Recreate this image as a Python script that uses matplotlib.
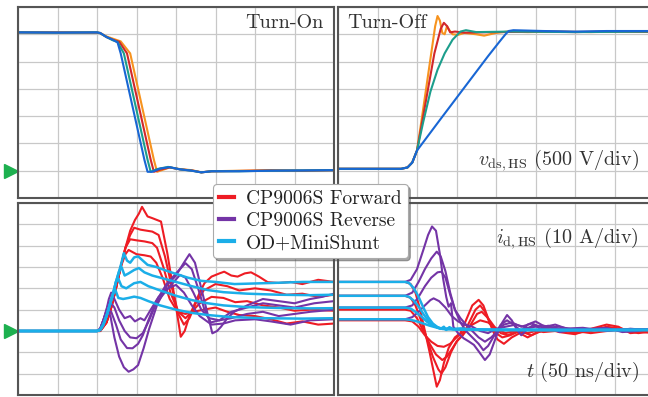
import matplotlib
matplotlib.use("Agg")
import matplotlib.pyplot as plt
from matplotlib.lines import Line2D
from matplotlib.transforms import blended_transform_factory

plt.rcParams['font.family'] = ['cmr10', 'DejaVu Serif']
plt.rcParams['mathtext.fontset'] = 'cm'
plt.rcParams['axes.formatter.use_mathtext'] = True

# time in ns, amplitude in divisions (500 V/div resp. 10 A/div)
# --- v_ds turn-on
von_orange = [(0, 5.07), (50, 5.06), (100, 5.07), (104, 5.05), (112, 4.92), (122, 4.82), (130, 4.74), (142, 4.3),
              (152, 3.0), (162, 1.7), (172, 0.4), (176, -0.04), (182, 0.02), (192, 0.12), (205, 0.06),
              (220, 0.02), (232, -0.06), (245, -0.02), (280, 0.0), (320, 0.02), (360, 0.0), (400, 0.02)]
von_red = [(0, 5.07), (50, 5.07), (100, 5.06), (104, 5.04), (112, 4.9), (120, 4.8), (128, 4.73), (138, 4.3),
           (148, 3.0), (158, 1.7), (168, 0.4), (172, -0.04), (180, 0.04), (192, 0.12), (205, 0.05),
           (220, 0.01), (232, -0.06), (245, -0.02), (280, -0.01), (320, 0.01), (360, 0.0), (400, 0.02)]
von_teal = [(0, 5.07), (50, 5.06), (100, 5.07), (104, 5.04), (112, 4.9), (120, 4.78), (126, 4.72), (134, 4.3),
            (144, 3.0), (154, 1.7), (164, 0.4), (168, -0.04), (176, 0.06), (190, 0.14), (205, 0.05),
            (220, 0.0), (232, -0.06), (245, -0.02), (280, -0.02), (320, 0.0), (360, 0.01), (400, 0.02)]
von_blue = [(0, 5.07), (50, 5.06), (100, 5.07), (104, 5.05), (112, 4.9), (120, 4.8), (126, 4.7), (130, 4.3),
            (140, 3.0), (150, 1.7), (160, 0.4), (164, -0.04), (170, -0.04), (180, 0.08), (192, 0.13),
            (205, 0.05), (220, 0.0), (232, -0.06), (245, -0.02), (280, -0.02), (320, 0.0), (360, 0.01), (400, 0.02)]

# --- v_ds turn-off
voff_orange = [(0, 0.07), (40, 0.07), (80, 0.07), (88, 0.12), (94, 0.3), (100, 0.74), (106, 1.9), (112, 3.1),
               (118, 4.3), (123, 5.3), (126, 5.67), (129, 5.5), (132, 5.05), (135, 5.0), (138, 5.3), (141, 5.15),
               (145, 5.0), (152, 4.98), (160, 5.05), (175, 5.0), (185, 4.95), (200, 5.05), (215, 5.1),
               (240, 5.08), (280, 5.1), (320, 5.08), (360, 5.1), (400, 5.08)]
voff_red = [(0, 0.07), (40, 0.07), (80, 0.07), (88, 0.12), (94, 0.3), (100, 0.74), (106, 1.7), (114, 3.0),
            (122, 4.3), (130, 5.2), (134, 5.42), (138, 5.3), (142, 5.07), (148, 5.1), (160, 5.06), (200, 5.08),
            (260, 5.1), (300, 5.08), (340, 5.1), (400, 5.09)]
voff_teal = [(0, 0.07), (40, 0.07), (80, 0.07), (88, 0.12), (94, 0.3), (100, 0.74), (108, 1.8), (117, 2.9),
             (126, 3.7), (135, 4.3), (145, 4.8), (155, 5.1), (162, 5.15), (175, 5.08), (220, 5.1),
             (300, 5.08), (400, 5.1)]
voff_blue = [(0, 0.07), (40, 0.07), (80, 0.07), (88, 0.12), (94, 0.3), (100, 0.74), (130, 1.9), (160, 3.05),
             (190, 4.2), (205, 4.75), (212, 5.0), (216, 5.12), (222, 5.15), (260, 5.12), (300, 5.1),
             (340, 5.12), (400, 5.12)]

# --- i_d turn-on
ion_fwd = [
    [(0, 0), (104, 0), (112, 0.4), (118, 1.1), (124, 2.0), (130, 3.0), (136, 3.9), (142, 4.7), (148, 5.2),
     (153, 5.5), (157, 5.82), (164, 5.37), (170, 5.29), (181, 5.13), (189, 3.65), (198, 1.61), (206, -0.27),
     (211, 0.0), (217, 0.7), (223, 1.22), (230, 1.8), (236, 2.24), (245, 2.55), (255, 2.7), (261, 2.78),
     (270, 2.6), (278, 2.55), (287, 2.7), (295, 2.75), (305, 2.55), (316, 2.29), (330, 2.25), (345, 2.3),
     (360, 2.2), (380, 2.4), (400, 2.3)],
    [(0, 0), (104, 0), (112, 0.4), (118, 1.1), (124, 2.0), (130, 3.0), (136, 3.9), (142, 4.5), (147, 4.84),
     (155, 4.75), (170, 4.66), (178, 4.5), (186, 3.5), (195, 2.0), (203, 0.8), (210, 0.3), (217, 0.6),
     (225, 1.3), (235, 1.9), (250, 2.2), (265, 2.1), (280, 1.9), (300, 2.0), (320, 1.9), (340, 1.7),
     (360, 1.75), (380, 1.6), (400, 1.7)],
    [(0, 0), (104, 0), (112, 0.4), (118, 1.1), (124, 2.0), (130, 3.0), (136, 3.9), (142, 4.3), (150, 4.25),
     (160, 4.2), (170, 4.12), (176, 3.9), (184, 3.0), (193, 1.8), (203, 0.9), (212, 0.6), (220, 0.9),
     (230, 1.3), (245, 1.6), (260, 1.55), (275, 1.35), (290, 1.4), (310, 1.2), (330, 1.1), (350, 0.95),
     (370, 1.0), (400, 0.95)],
    [(0, 0), (104, 0), (112, 0.4), (118, 1.1), (124, 2.0), (130, 3.0), (136, 3.6), (140, 3.8), (150, 3.6),
     (160, 3.55), (168, 3.49), (175, 3.2), (183, 2.5), (192, 1.5), (202, 0.9), (212, 0.8), (222, 0.9),
     (235, 1.0), (250, 1.1), (265, 0.9), (280, 0.75), (300, 0.7), (320, 0.55), (340, 0.35), (360, 0.45),
     (380, 0.3), (400, 0.35)],
]
ion_rev = [
    [(0, 0), (100, 0), (104, 0.1), (108, 0.5), (113, 1.0), (117, 0.7), (122, -0.3), (128, -1.2), (134, -1.7),
     (140, -1.91), (146, -1.8), (152, -1.6), (159, -0.81), (166, 0.1), (176, 1.22), (189, 2.16), (200, 2.6),
     (210, 3.2), (217, 3.6), (224, 3.2), (232, 2.0), (240, 0.8), (246, -0.11), (252, 0.0), (257, 0.2),
     (265, 0.6), (274, 0.91), (290, 1.2), (310, 1.5), (330, 1.4), (350, 1.3), (370, 1.5), (385, 1.6),
     (400, 1.75)],
    [(0, 0), (100, 0), (104, 0.1), (108, 0.5), (113, 1.0), (118, 0.9), (124, 0.3), (130, -0.4), (138, -0.8),
     (145, -0.81), (152, -0.6), (158, -0.2), (165, 0.5), (175, 1.4), (188, 2.2), (200, 2.7), (212, 3.18),
     (220, 2.9), (228, 2.0), (236, 1.0), (244, 0.4), (255, 0.5), (270, 0.9), (290, 1.1), (310, 1.3),
     (330, 1.2), (350, 1.1), (375, 1.3), (400, 1.4)],
    [(0, 0), (100, 0), (104, 0.1), (108, 0.5), (112, 1.0), (116, 1.4), (122, 1.1), (128, 0.5), (135, 0.0),
     (142, -0.3), (150, -0.34), (158, -0.1), (166, 0.5), (175, 1.3), (190, 2.0), (205, 2.63), (212, 2.5),
     (222, 1.8), (232, 1.0), (242, 0.6), (255, 0.5), (270, 0.6), (290, 0.8), (310, 0.9), (330, 0.7),
     (350, 0.8), (370, 0.9), (400, 1.0)],
    [(0, 0), (100, 0), (104, 0.1), (108, 0.5), (112, 1.0), (115, 1.5), (118, 1.8), (122, 1.5), (128, 1.0),
     (135, 0.6), (142, 0.7), (148, 0.45), (155, 0.6), (160, 0.5), (168, 1.0), (178, 1.6), (190, 2.0),
     (200, 2.16), (210, 1.8), (220, 1.2), (230, 0.7), (245, 0.3), (260, 0.35), (275, 0.5), (300, 0.55),
     (320, 0.45), (345, 0.3), (370, 0.5), (400, 0.55)],
]
ion_shunt = [
    [(0, 0), (100, 0), (104, 0.05), (108, 0.3), (112, 0.7), (116, 1.2), (120, 1.7), (124, 2.3), (128, 2.8),
     (131, 3.2), (134, 3.65), (138, 3.3), (142, 3.2), (147, 3.45), (152, 3.5), (158, 3.3), (164, 3.1),
     (175, 3.0), (186, 2.85), (198, 2.7), (215, 2.5), (232, 2.35), (250, 2.3), (274, 2.2), (320, 2.25),
     (360, 2.3), (400, 2.3)],
    [(0, 0), (100, 0), (104, 0.05), (108, 0.3), (112, 0.7), (116, 1.2), (120, 1.7), (124, 2.3), (128, 2.8),
     (131, 3.0), (135, 2.6), (140, 2.7), (147, 2.86), (153, 2.95), (160, 2.75), (170, 2.6), (185, 2.45),
     (200, 2.3), (220, 2.1), (240, 1.92), (260, 1.82), (290, 1.75), (330, 1.7), (370, 1.68), (400, 1.7)],
    [(0, 0), (100, 0), (104, 0.05), (108, 0.3), (112, 0.7), (116, 1.2), (120, 1.7), (124, 2.3), (127, 2.45),
     (131, 2.1), (137, 2.0), (147, 2.24), (155, 2.3), (165, 2.1), (180, 1.9), (200, 1.65), (220, 1.45),
     (240, 1.3), (260, 1.2), (290, 1.12), (330, 1.08), (370, 1.06), (400, 1.07)],
    [(0, 0), (100, 0), (104, 0.05), (108, 0.3), (112, 0.7), (116, 1.2), (120, 1.7), (123, 1.95), (127, 1.55),
     (133, 1.5), (140, 1.55), (147, 1.61), (155, 1.55), (165, 1.4), (180, 1.2), (200, 1.0), (220, 0.85),
     (240, 0.75), (270, 0.65), (310, 0.6), (360, 0.58), (400, 0.6)],
]

# --- i_d turn-off
ioff_fwd = [
    [(0, 2.3), (85, 2.3), (92, 2.2), (98, 1.8), (104, 1.0), (110, 0.0), (116, -1.0), (121, -1.9), (125, -2.61),
     (129, -2.3), (134, -1.5), (140, -0.8), (148, -0.3), (155, -0.1), (162, 0.5), (170, 1.2), (178, 1.46),
     (184, 1.2), (190, 0.6), (196, 0.0), (202, -0.4), (210, -0.6), (220, -0.3), (230, -0.1), (240, -0.3),
     (250, -0.1), (265, 0.1), (280, -0.05), (300, -0.15), (320, 0.1), (340, 0.3), (355, 0.2), (370, -0.1),
     (385, -0.05), (400, -0.1)],
    [(0, 1.65), (85, 1.65), (92, 1.55), (98, 1.2), (105, 0.5), (112, -0.3), (120, -1.2), (127, -1.8),
     (131, -1.99), (136, -1.7), (143, -1.0), (150, -0.5), (158, -0.2), (166, 0.4), (174, 1.0), (180, 1.2),
     (186, 0.9), (192, 0.4), (200, -0.1), (208, -0.3), (218, -0.2), (230, 0.0), (245, -0.2), (260, 0.05),
     (280, 0.1), (300, -0.1), (320, 0.0), (340, 0.2), (360, 0.1), (380, -0.1), (400, 0.0)],
    [(0, 1.0), (85, 1.0), (92, 0.95), (100, 0.6), (108, 0.0), (116, -0.6), (124, -1.1), (132, -1.36),
     (138, -1.2), (145, -0.8), (152, -0.4), (160, -0.1), (168, 0.3), (176, 0.8), (182, 0.9), (190, 0.6),
     (198, 0.2), (206, -0.1), (215, -0.2), (228, 0.0), (240, -0.1), (260, 0.1), (280, 0.0), (300, -0.05),
     (330, 0.15), (360, 0.0), (400, -0.05)],
    [(0, 0.5), (85, 0.5), (94, 0.45), (102, 0.2), (110, -0.2), (118, -0.5), (126, -0.7), (134, -0.74),
     (142, -0.6), (150, -0.3), (160, 0.0), (170, 0.3), (180, 0.5), (190, 0.4), (200, 0.1), (212, -0.1),
     (225, 0.0), (240, 0.1), (260, -0.05), (290, 0.05), (320, -0.1), (350, 0.05), (400, 0.0)],
]
ioff_rev = [
    [(0, 2.3), (85, 2.3), (92, 2.4), (100, 2.9), (108, 3.8), (114, 4.5), (119, 4.9), (124, 4.7), (129, 3.6),
     (133, 2.47), (137, 1.6), (140, 1.14), (143, 1.3), (146, 0.2), (152, -0.1), (159, -0.34), (166, -0.5),
     (172, -0.65), (179, -1.0), (186, -1.36), (192, -1.1), (201, -0.19), (208, 0.4), (214, 0.75),
     (220, 0.5), (226, 0.1), (232, -0.2), (240, 0.1), (248, 0.3), (256, 0.1), (266, 0.25), (280, -0.05),
     (300, 0.05), (320, 0.1), (340, 0.15), (360, -0.05), (380, 0.0), (400, 0.15)],
    [(0, 1.65), (85, 1.65), (94, 1.8), (102, 2.3), (110, 2.9), (118, 3.4), (125, 3.72), (130, 3.5),
     (136, 2.8), (142, 1.8), (148, 1.0), (155, 0.4), (162, 0.0), (170, -0.3), (178, -0.6), (184, -0.9),
     (190, -0.7), (198, -0.2), (206, 0.3), (214, 0.5), (222, 0.3), (232, 0.0), (240, 0.3), (250, 0.45),
     (262, 0.2), (275, 0.3), (290, 0.1), (310, 0.0), (330, 0.1), (350, 0.05), (370, 0.1), (400, 0.05)],
    [(0, 1.1), (85, 1.1), (94, 1.2), (102, 1.6), (110, 2.1), (118, 2.5), (126, 2.75), (131, 2.78),
     (136, 2.5), (142, 1.7), (148, 1.0), (155, 0.6), (162, 0.3), (170, 0.0), (178, -0.3), (186, -0.5),
     (194, -0.3), (202, 0.0), (210, 0.3), (220, 0.4), (232, 0.2), (245, 0.35), (260, 0.15), (280, 0.2),
     (300, 0.05), (330, 0.1), (360, 0.05), (400, 0.1)],
    [(0, 0.55), (85, 0.55), (94, 0.65), (102, 0.9), (110, 1.2), (117, 1.45), (121, 1.53), (128, 1.4),
     (136, 1.1), (144, 0.7), (152, 0.45), (160, 0.3), (170, 0.2), (180, 0.0), (190, -0.1), (200, 0.1),
     (212, 0.2), (225, 0.3), (240, 0.15), (260, 0.25), (280, 0.1), (310, 0.15), (340, 0.0), (370, 0.1),
     (400, 0.05)],
]
ioff_shunt = [
    [(0, 2.3), (85, 2.3), (90, 2.25), (96, 2.0), (102, 1.6), (108, 1.1), (114, 0.65), (120, 0.35),
     (126, 0.18), (130, 0.1), (134, 0.2), (137, 0.05), (141, 0.18), (146, 0.08), (155, 0.12), (170, 0.08),
     (200, 0.05), (250, 0.05), (300, 0.04), (350, 0.05), (400, 0.05)],
    [(0, 1.65), (85, 1.65), (90, 1.6), (96, 1.42), (102, 1.15), (108, 0.8), (114, 0.5), (120, 0.3),
     (126, 0.15), (132, 0.1), (140, 0.12), (150, 0.06), (170, 0.08), (200, 0.05), (260, 0.04), (320, 0.05),
     (400, 0.05)],
    [(0, 1.1), (85, 1.1), (92, 1.05), (98, 0.9), (105, 0.7), (112, 0.45), (120, 0.25), (128, 0.15),
     (136, 0.08), (150, 0.1), (180, 0.05), (240, 0.06), (300, 0.04), (400, 0.05)],
    [(0, 0.55), (85, 0.55), (92, 0.52), (100, 0.45), (108, 0.35), (116, 0.25), (124, 0.17), (132, 0.1),
     (145, 0.08), (170, 0.06), (220, 0.05), (300, 0.05), (400, 0.05)],
]

legend_labels = ["CP9006S Forward", "CP9006S Reverse", "OD+MiniShunt"]

c_orange, c_red, c_teal, c_blue = "#F7931E", "#D1282B", "#1C9E8C", "#1866D4"
c_fwd, c_rev, c_shunt = "#EE1C24", "#7434A6", "#1BAEE8"

W, H = 648, 397
fig = plt.figure(figsize=(W / 100, H / 100), dpi=100)


def add_ax(x0, y0, x1, y1):
    # pixel box -> figure fractions
    return fig.add_axes([x0 / W, 1 - y1 / H, (x1 - x0) / W, (y1 - y0) / H])


ax_von = add_ax(18, 7, 334, 198)
ax_voff = add_ax(338, 7, 654, 198)
ax_ion = add_ax(18, 203, 334, 395)
ax_ioff = add_ax(338, 203, 654, 395)

for ax, ylo, yhi in [(ax_von, -1, 6), (ax_voff, -1, 6), (ax_ion, -3, 6), (ax_ioff, -3, 6)]:
    ax.set_xlim(0, 400)
    ax.set_ylim(ylo, yhi)
    ax.set_xticks(range(0, 401, 50))
    ax.set_yticks(range(ylo, yhi + 1))
    ax.tick_params(length=0, labelbottom=False, labelleft=False)
    ax.grid(True, color="#c8c8c8", lw=0.9)
    ax.set_axisbelow(True)
    for s in ax.spines.values():
        s.set_color("#555555")
        s.set_linewidth(1.5)

for ax in (ax_voff, ax_ioff):
    ax.spines["right"].set_visible(False)


def trace(ax, pts, color, lw=1.5):
    ax.plot([p[0] for p in pts], [p[1] for p in pts], color=color, lw=lw, solid_joinstyle="round")


for ax, tr in [(ax_von, [von_orange, von_red, von_teal, von_blue]),
               (ax_voff, [voff_orange, voff_red, voff_teal, voff_blue])]:
    for pts, c in zip(tr, [c_orange, c_red, c_teal, c_blue]):
        trace(ax, pts, c)

for ax, fwd, rev, sh in [(ax_ion, ion_fwd, ion_rev, ion_shunt), (ax_ioff, ioff_fwd, ioff_rev, ioff_shunt)]:
    for pts in fwd:
        trace(ax, pts, c_fwd)
    for pts in rev:
        trace(ax, pts, c_rev)
    for pts in sh:
        trace(ax, pts, c_shunt, lw=1.8)

# zero markers
for ax in (ax_von, ax_ion):
    tr = blended_transform_factory(fig.transFigure, ax.transData)
    ax.plot([11 / W], [0], marker=">", color="#1DB04F", ms=10, transform=tr, clip_on=False)

fs = 14.5
fig.text(323 / W, 1 - 23 / H, "Turn-On", fontsize=fs, color="#333333", ha="right", va="center")
fig.text(347 / W, 1 - 23 / H, "Turn-Off", fontsize=fs, color="#333333", ha="left", va="center")
fig.text(639 / W, 1 - 160 / H, r"$v_{\mathrm{ds,HS}}$ (500 V/div)", fontsize=fs, color="#333333",
         ha="right", va="center")
fig.text(639 / W, 1 - 238 / H, r"$i_{\mathrm{d,HS}}$ (10 A/div)", fontsize=fs, color="#333333",
         ha="right", va="center")
fig.text(639 / W, 1 - 372 / H, r"$t$ (50 ns/div)", fontsize=fs, color="#333333", ha="right", va="center")

handles = [Line2D([], [], color=c, lw=3) for c in (c_fwd, c_rev, c_shunt)]
leg = fig.legend(handles, legend_labels, loc="upper left", bbox_to_anchor=(213 / W, 1 - 184 / H),
                 fontsize=14, frameon=True, fancybox=True, shadow=True, handlelength=0.8,
                 handletextpad=0.6, borderpad=0.3, labelspacing=0.22, borderaxespad=0)
leg.get_frame().set_edgecolor("#aaaaaa")
leg.get_frame().set_linewidth(0.8)
for t in leg.get_texts():
    t.set_color("#222222")

fig.savefig("out.png", dpi=100)
